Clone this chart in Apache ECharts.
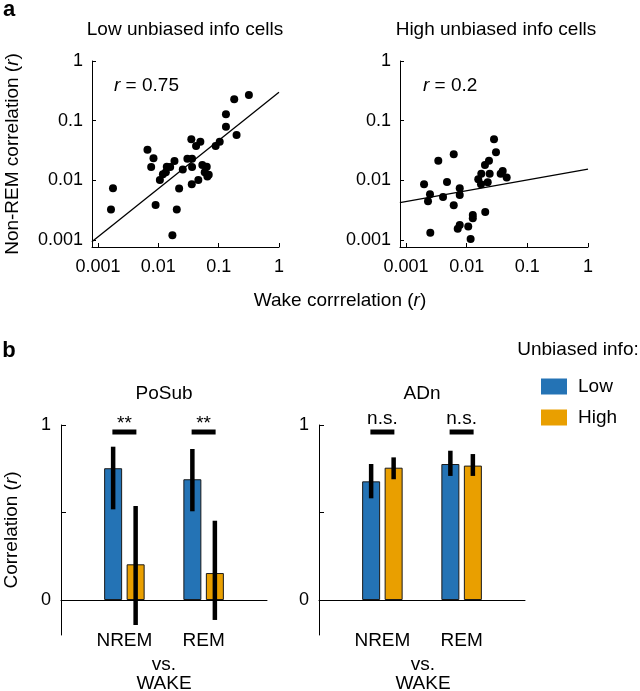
<!DOCTYPE html>
<html><head><meta charset="utf-8">
<script src="https://cdn.jsdelivr.net/npm/echarts@6/dist/echarts.min.js"></script>
<style>html,body{margin:0;padding:0;background:#fff}#c{width:640px;height:691px}</style>
</head><body><div id="c"></div>
<script>
const FONT = '"Liberation Sans", Arial, Helvetica, sans-serif';

// ---- Panel a: scatter data (Wake r vs Non-REM r) ----
const wakeLow = [0.00164, 0.00177, 0.0066, 0.0083, 0.0076, 0.0090, 0.0106, 0.0119, 0.0133, 0.0138, 0.0157, 0.0185,
  0.0171, 0.0202, 0.0221, 0.0254, 0.0303, 0.0362, 0.0362, 0.0352, 0.0422, 0.0497, 0.0358, 0.0460, 0.0536, 0.0634,
  0.0587, 0.0649, 0.0684, 0.0891, 0.104, 0.132, 0.132, 0.198, 0.181, 0.317];
const nremLow = [0.00324, 0.00735, 0.0324, 0.0233, 0.0167, 0.00385, 0.0101, 0.0126, 0.0136, 0.0169, 0.0166, 0.0210,
  0.0012, 0.00324, 0.00724, 0.0152, 0.0230, 0.0230, 0.0167, 0.0486, 0.0376, 0.0443, 0.00857, 0.0101, 0.0180, 0.0169,
  0.0136, 0.0115, 0.0123, 0.0376, 0.0443, 0.0791, 0.128, 0.0574, 0.228, 0.269];
const wakeHigh = [0.00198, 0.00248, 0.00230, 0.00251, 0.00340, 0.00407, 0.00473, 0.00611, 0.00611, 0.00767, 0.00767,
  0.00711, 0.00767, 0.0106, 0.0116, 0.0126, 0.0126, 0.0155, 0.0172, 0.0174, 0.0200, 0.0202, 0.0222, 0.0233, 0.0239,
  0.0282, 0.0304, 0.0363, 0.0392, 0.0456];
const nremHigh = [0.00857, 0.00582, 0.00445, 0.00131, 0.0213, 0.00525, 0.00938, 0.0272, 0.00381, 0.00735, 0.00568,
  0.00153, 0.00178, 0.00167, 0.00103, 0.00262, 0.00231, 0.0104, 0.00857, 0.0128, 0.0180, 0.00294, 0.00927, 0.0213,
  0.0129, 0.0486, 0.0295, 0.0129, 0.0143, 0.0111];
const fitLowWake = [0.00079, 1];
const fitLowNrem = [0.00093, 0.30];
const fitHighWake = [0.00079, 1];
const fitHighNrem = [0.0042, 0.0153];
const corrLow = '0.75';
const corrHigh = '0.2';
const logTicks = [0.001, 0.01, 0.1, 1];
const logTickLabels = ['0.001', '0.01', '0.1', '1'];

// ---- Panel b: bar data ----
const stages = ['NREM', 'REM'];
const posubLow = [0.753, 0.690];
const posubLowLo = [0.518, 0.507];
const posubLowHi = [0.876, 0.863];
const posubHigh = [0.204, 0.154];
const posubHighLo = [-0.143, -0.114];
const posubHighHi = [0.537, 0.453];
const adnLow = [0.678, 0.777];
const adnLowLo = [0.581, 0.709];
const adnLowHi = [0.777, 0.853];
const adnHigh = [0.756, 0.768];
const adnHighLo = [0.690, 0.709];
const adnHighHi = [0.815, 0.834];
const posubSig = ['**', '**'];
const adnSig = ['n.s.', 'n.s.'];
const sigLevel = 0.96;
const barTicks = [0, 0.5, 1];
const barLabels = [0, 1];

const BLUE = '#2473b5', ORANGE = '#e99f00';
const FS = 19;

const lg = v => Math.log10(v);
const pts = (xs, ys) => xs.map((x, i) => [lg(x), lg(ys[i])]);
const labelFor = v => { const i = logTicks.findIndex(t => Math.abs(lg(t) - v) < 1e-6); return i < 0 ? '' : logTickLabels[i]; };

const txt = { fontFamily: FONT, fontSize: 18, color: '#000' };

function logAxis(gi, min) {
  return {
    gridIndex: gi, type: 'value', min: min, max: 0,
    axisLine: { onZero: false, lineStyle: { color: '#000', width: 1 } },
    axisTick: { inside: true, length: 4, customValues: logTicks.map(lg), lineStyle: { color: '#000' } },
    axisLabel: Object.assign({ customValues: logTicks.map(lg), formatter: labelFor }, txt),
    splitLine: { show: false }
  };
}

const chart = echarts.init(document.getElementById('c'));

const nameStyle = { fontFamily: FONT, fontSize: FS, color: '#000', rich: { i: { fontFamily: FONT, fontSize: FS, fontStyle: 'italic', color: '#000' } } };
const xAxes = [logAxis(0, -3.1), logAxis(1, -3.1)];
xAxes[0].axisLabel.margin = 11; xAxes[1].axisLabel.margin = 11;
const yAxes = [logAxis(0, -3.12), logAxis(1, -3.12)];
yAxes[0].axisLabel.margin = 9; yAxes[1].axisLabel.margin = 9;
yAxes[0].name = 'Non-REM correlation ({i|r})';
yAxes[0].nameLocation = 'middle';
yAxes[0].nameGap = 70;
yAxes[0].nameTextStyle = nameStyle;

function barXAxis(gi) {
  return {
    gridIndex: gi, type: 'value', min: 0.2, max: 2.8,
    axisLine: { onZero: true, lineStyle: { color: '#000', width: 1 } },
    axisTick: { show: false },
    axisLabel: Object.assign({ customValues: [1, 2], formatter: v => stages[Math.round(v) - 1], margin: -4 }, txt, { fontSize: FS }),
    splitLine: { show: false }
  };
}
function barYAxis(gi) {
  return {
    gridIndex: gi, type: 'value', min: -0.2, max: 1,
    axisLine: { onZero: false, lineStyle: { color: '#000', width: 1 } },
    axisTick: { inside: true, length: 5, customValues: barTicks, lineStyle: { color: '#000' } },
    axisLabel: Object.assign({ customValues: barLabels, margin: 10 }, txt),
    splitLine: { show: false }
  };
}
xAxes.push(barXAxis(2), barXAxis(3));
const by0 = barYAxis(2), by1 = barYAxis(3);
by0.name = 'Correlation ({i|r})';
by0.nameLocation = 'middle';
by0.nameGap = 40;
by0.nameTextStyle = nameStyle;
yAxes.push(by0, by1);

function barSeries(name, gi, vals, color) {
  return {
    type: 'bar', name: name, xAxisIndex: gi, yAxisIndex: gi,
    data: vals.map((v, i) => [i + 1, v]),
    barWidth: 18, barGap: '25%',
    itemStyle: { color: color, borderColor: '#1a1a1a', borderWidth: 1 },
    emphasis: { disabled: true }, z: 2
  };
}
function errSeries(gi, lo, hi, offset) {
  return {
    type: 'custom', name: 'err' + gi + offset, xAxisIndex: gi, yAxisIndex: gi,
    data: lo.map((l, i) => [i + 1, l, hi[i]]),
    encode: { x: 0, y: [1, 2] }, z: 5, silent: true, clip: false,
    renderItem: (params, api) => {
      const a = api.coord([api.value(0), api.value(1)]);
      const b = api.coord([api.value(0), api.value(2)]);
      return { type: 'line', shape: { x1: a[0] + offset, y1: a[1], x2: b[0] + offset, y2: b[1] },
        style: { stroke: '#000', lineWidth: 4.5 } };
    }
  };
}
function sigSeries(gi, labels) {
  return {
    type: 'custom', name: 'sig' + gi, xAxisIndex: gi, yAxisIndex: gi,
    data: labels.map((l, i) => [i + 1, sigLevel]),
    encode: { x: 0, y: 1 }, z: 5, silent: true, clip: false,
    renderItem: (params, api) => {
      const p = api.coord([api.value(0), api.value(1)]);
      const lab = labels[params.dataIndex];
      return { type: 'group', children: [
        { type: 'line', shape: { x1: p[0] - 12, y1: p[1], x2: p[0] + 12, y2: p[1] }, style: { stroke: '#000', lineWidth: 5 } },
        { type: 'text', x: p[0], y: lab === '**' ? p[1] + 1 : p[1] - 4,
          style: { text: lab, fill: '#000', font: FS + 'px ' + FONT, align: 'center', verticalAlign: 'bottom' } }
      ] };
    }
  };
}

const series = [
  { type: 'line', name: 'fitLow', xAxisIndex: 0, yAxisIndex: 0, data: pts(fitLowWake, fitLowNrem), symbol: 'none',
    lineStyle: { color: '#000', width: 1.3 }, silent: true, z: 1 },
  { type: 'scatter', name: 'low', xAxisIndex: 0, yAxisIndex: 0, data: pts(wakeLow, nremLow), symbolSize: 8,
    itemStyle: { color: '#000', opacity: 1 }, silent: true, z: 3 },
  { type: 'line', name: 'fitHigh', xAxisIndex: 1, yAxisIndex: 1, data: pts(fitHighWake, fitHighNrem), symbol: 'none',
    lineStyle: { color: '#000', width: 1.3 }, silent: true, z: 1 },
  { type: 'scatter', name: 'high', xAxisIndex: 1, yAxisIndex: 1, data: pts(wakeHigh, nremHigh), symbolSize: 8,
    itemStyle: { color: '#000', opacity: 1 }, silent: true, z: 3 },
  barSeries('Low', 2, posubLow, BLUE),
  barSeries('High', 2, posubHigh, ORANGE),
  barSeries('Low', 3, adnLow, BLUE),
  barSeries('High', 3, adnHigh, ORANGE),
  errSeries(2, posubLowLo, posubLowHi, -11.25),
  errSeries(2, posubHighLo, posubHighHi, 11.25),
  errSeries(3, adnLowLo, adnLowHi, -11.25),
  errSeries(3, adnHighLo, adnHighHi, 11.25),
  sigSeries(2, posubSig),
  sigSeries(3, adnSig)
];

function T(text, x, y, size, extra) {
  return { type: 'text', x: x, y: y, style: Object.assign({ text: text, fill: '#000', font: size + 'px ' + FONT,
    align: 'center', verticalAlign: 'middle' }, extra || {}) };
}
const richR = { i: { fontFamily: FONT, fontSize: FS, fontStyle: 'italic', fill: '#000' }, n: { fontFamily: FONT, fontSize: FS, fill: '#000' } };

chart.setOption({
  animation: false,
  backgroundColor: '#fff',
  grid: [
    { left: 92, top: 61, width: 187, height: 186 },
    { left: 400, top: 61, width: 188, height: 186 },
    { left: 61, top: 425, width: 206, height: 210 },
    { left: 319, top: 425, width: 206, height: 210 }
  ],
  xAxis: xAxes,
  yAxis: yAxes,
  legend: {
    data: ['Low', 'High'], orient: 'vertical', left: 536, top: 372, itemWidth: 26, itemHeight: 16, itemGap: 12,
    icon: 'rect', selectedMode: false, itemStyle: { borderWidth: 0 },
    textStyle: { fontFamily: FONT, fontSize: FS, color: '#000', padding: [0, 0, 0, 6] }
  },
  graphic: [
    T('a', 9, 10, 21, { font: 'bold 22px ' + FONT }),
    T('b', 9, 351, 21, { font: 'bold 22px ' + FONT }),
    T('Low unbiased info cells', 185, 30, FS),
    T('High unbiased info cells', 496, 30, FS),
    { type: 'text', x: 114, y: 86, style: { text: '{i|r}{n| = ' + corrLow + '}', rich: richR, align: 'left', verticalAlign: 'middle' } },
    { type: 'text', x: 423, y: 86, style: { text: '{i|r}{n| = ' + corrHigh + '}', rich: richR, align: 'left', verticalAlign: 'middle' } },
    { type: 'text', x: 340, y: 301, style: { text: '{n|Wake corrrelation (}{i|r}{n|)}', rich: richR, align: 'center', verticalAlign: 'middle' } },
    T('PoSub', 164, 394, FS),
    T('ADn', 422, 394, FS),
    T('vs.', 164, 665, FS),
    T('WAKE', 164, 684, FS),
    T('vs.', 423, 665, FS),
    T('WAKE', 423, 684, FS),
    T('Unbiased info:', 578, 350, FS)
  ],
  series: series
});
</script>
</body></html>
